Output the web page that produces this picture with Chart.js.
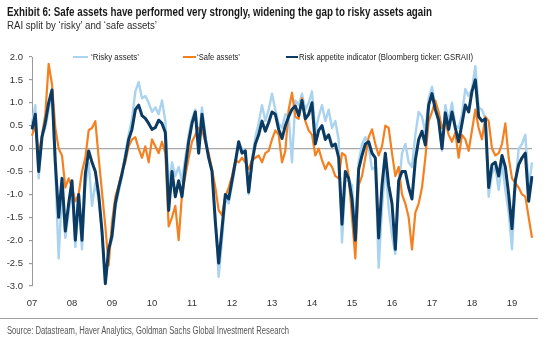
<!DOCTYPE html>
<html>
<head>
<meta charset="utf-8">
<script src="https://cdn.jsdelivr.net/npm/chart.js@4"></script>
<style>
  body { margin: 0; background: #fff; }
  #wrap { position: relative; width: 550px; height: 342px; overflow: hidden; font-family: "Liberation Sans", Arial, sans-serif; }
  #wrap canvas { position: absolute; left: 0; top: 0; }
  .t { position: absolute; white-space: nowrap; line-height: 1; transform-origin: 0 0; }
  .ln { position: absolute; height: 2px; }
</style>
</head>
<body>
<div id="wrap">
  <canvas id="raiChart" width="550" height="342"></canvas>
  <div class="t" data-w="425" style="left:7px;top:6px;font-size:12px;font-weight:bold;color:#1a1a1a">Exhibit 6: Safe assets have performed very strongly, widening the gap to risky assets again</div>
  <div class="t" data-w="150" style="left:7px;top:20px;font-size:11px;color:#2a2a2a">RAI split by ‘risky’ and ‘safe assets’</div>

  <div class="ln" style="left:73px;top:56px;width:15px;background:#a9d3ef"></div>
  <div class="t" data-w="48" style="left:91px;top:53px;font-size:9px;color:#222">‘Risky assets’</div>
  <div class="ln" style="left:183px;top:56px;width:13px;background:#f5801f"></div>
  <div class="t" data-w="43" style="left:197px;top:53px;font-size:9px;color:#222">‘Safe assets’</div>
  <div class="ln" style="left:286px;top:56px;width:12px;background:#0b3a63"></div>
  <div class="t" data-w="174" style="left:299px;top:53px;font-size:9px;color:#222">Risk appetite indicator (Bloomberg ticker: GSRAII)</div>

  <div style="position:absolute;left:0;top:318px;width:538px;height:1px;background:#a0a0a0"></div>
  <div class="t" data-w="282" style="left:7px;top:326px;font-size:10px;color:#555">Source: Datastream, Haver Analytics, Goldman Sachs Global Investment Research</div>
</div>

<script>
// monthly points, Jan 2007 .. Jul 2019
const months = [];
for (let y = 2007; y <= 2019; y++) {
  for (let m = 1; m <= 12; m++) {
    if (y === 2019 && m > 7) break;
    months.push(y + "-" + String(m).padStart(2, "0"));
  }
}

const yTicks = [2.0, 1.5, 1.0, 0.5, 0.0, -0.5, -1.0, -1.5, -2.0, -2.5, -3.0];

// 'Risky assets'
const riskyAssets = [
  0.55, 0.95, -0.65, 0.3, 0.45, 0.85, 1.2, -0.5, -2.4, -0.9,
  -1.95, -1.4, -0.9, -2.15, -1.2, -2.2, -0.8, -0.3, -1.25, -0.75,
  -1.1, -1.85, -2.95, -2.2, -2.0, -1.3, -0.95, -0.6, -0.1, 0.3,
  0.65, 1.25, 1.45, 1.1, 1.15, 1.0, 0.8, 0.9, 0.75, 1.05,
  0.6, -0.85, -0.3, -0.6, -0.4, -0.7, -0.2, 0.3, 0.65, 0.85,
  0.2, 0.9, 0.3, -0.2, -0.45, -1.5, -2.8, -2.0, -1.1, -1.2,
  -0.8, -0.35, 0.1, 0.0, -0.05, -1.0, -0.25, 0.25, 0.55, 0.95,
  0.6, 0.85, 1.2, 0.85, 0.55, 0.45, 0.75, 0.7, -0.3, 1.05,
  0.95, 1.2, 0.85, 1.0, 1.25, 0.35, 0.7, 0.95, 0.6, 0.85,
  0.45, 0.6, 0.2, -2.05, -0.7, -0.7, -0.8, -1.85, -0.3, 0.1,
  0.25, 0.05, -0.45, -0.4, -2.6, -1.3, -0.4, -1.3, -1.9, -2.3,
  -0.9, -0.1, 0.1, -0.3, -0.4, 0.3, 0.8, 0.7, 0.35, 1.1,
  1.35, 0.9, 0.6, -0.05, 0.95, 0.6, 1.0, 0.5, 0.45, 0.75,
  1.3, 1.15, 1.3, 1.8, 0.9, 0.85, 0.65, -1.05, -0.55, -0.4,
  -0.9, -0.3, -0.9, -1.4, -2.2, -0.8, 0.0, 0.1, 0.3, -0.85, -0.3
];

// 'Safe assets'
const safeAssets = [
  0.28, 0.5, -0.15, 0.3, 0.75, 1.85, 1.4, 0.45, 0.0, -0.15,
  -0.85, -0.65, -0.85, -1.15, -1.0, -0.5, -0.2, 0.4, 0.45, 0.6,
  -0.2, -0.95, -1.7, -2.55, -1.6, -1.05, -0.8, -0.5, -0.3, 0.05,
  0.2, 0.25, 0.0, -0.2, 0.05, -0.3, 0.2, 0.05, -0.1, 0.15,
  -0.1, -1.7, -1.5, -1.25, -2.0, -1.0, -0.6, -0.2, 0.15, 0.3,
  0.45, 0.4, 0.15, -0.1, -0.45, -0.85, -1.35, -1.45, -1.05, -0.85,
  -0.6, -0.25, -0.3, -0.2, -0.3, -0.45, -0.25, -0.2, -0.15, -0.3,
  -0.1, -0.05, 0.2, 0.4, 0.3, -0.3, -0.05, 0.85, 1.22, 0.7,
  0.65, 1.1, 0.6, 0.4, 0.3, -0.15, 0.0, -0.25, -0.45, -0.3,
  -0.4, -0.6, -0.65, -0.1, -0.15, -0.6, -1.5, -2.4, -0.8, -0.6,
  -0.2, 0.25, 0.42, 0.1, -0.15, 0.05, 0.5, 0.45, -0.1, -0.6,
  -0.4, -1.0, -1.2, -1.5, -2.2, -1.4, -1.2, -0.85, -0.2, 0.6,
  0.8, 1.05, 0.8, 0.45, 0.6, 0.3, 0.15, 0.35, -0.2, 0.3,
  0.2, -0.05, 0.4, 0.85, 0.45, 0.2, 0.7, 0.6, 0.0, -0.15,
  -0.1, 0.1, 0.55, -0.2, -0.65, -0.75, -0.85, -1.0, -1.05, -1.5, -1.95
];

// Risk appetite indicator (GSRAII)
const raiValues = [
  0.42, 0.75, -0.5, 0.25, 0.57, 1.0, 1.28, -0.3, -1.5, -0.65,
  -1.8, -1.2, -0.7, -2.0, -1.0, -2.0, -0.55, -0.05, -0.3, -0.5,
  -1.0, -1.8, -2.95, -2.2, -1.9, -1.2, -0.85, -0.55, -0.2, 0.2,
  0.42, 0.85, 0.95, 0.72, 0.66, 0.55, 0.42, 0.46, 0.62, 0.55,
  0.35, -1.35, -0.5, -1.05, -0.7, -1.05, -0.4, 0.15, 0.55, 0.8,
  -0.1, 0.75, 0.2, -0.2, -0.5, -1.6, -2.5, -1.75, -1.0, -1.1,
  -0.7, -0.3, 0.15, -0.1, -0.05, -0.95, -0.3, 0.1, 0.3, 0.6,
  0.38, 0.57, 0.8, 0.75, 0.42, 0.22, 0.5, 0.7, 0.86, 0.93,
  0.72, 1.05, 0.65, 0.75, 1.0, 0.1, 0.4, 0.5, 0.2, 0.3,
  0.05, 0.1, -0.2, -1.65, -0.5, -0.65, -1.1, -2.0, -0.45, -0.15,
  0.1, 0.15, -0.1, -0.2, -1.95, -0.8, -0.1, -0.8, -1.2, -2.2,
  -0.7, -0.5, -0.5, -0.85, -1.1, -0.25, 0.2, 0.38, 0.08, 0.95,
  1.2, 0.85, 0.62, 0.0, 0.78, 0.42, 0.8, 0.45, 0.15, 0.55,
  0.95, 0.8, 1.25, 1.5, 0.7, 0.6, 0.65, -0.85, -0.35, -0.3,
  -0.6, -0.15, -0.4, -1.0, -1.75, -0.7, -0.35, -0.2, -0.1, -1.15, -0.6
];

new Chart(document.getElementById("raiChart"), {
  type: "line",
  data: {
    labels: months,
    datasets: [
      { label: "‘Risky assets’", data: riskyAssets, borderColor: "#a9d3ef", borderWidth: 2.4, order: 2 },
      { label: "‘Safe assets’", data: safeAssets, borderColor: "#f5801f", borderWidth: 2.2, order: 1 },
      { label: "Risk appetite indicator (Bloomberg ticker: GSRAII)", data: raiValues, borderColor: "#0b3a63", borderWidth: 3, order: 0 }
    ]
  },
  options: {
    responsive: false,
    animation: false,
    elements: { point: { radius: 0 }, line: { tension: 0, borderJoinStyle: "round" } },
    layout: { padding: { top: 57, right: 18, bottom: 36, left: 0 } },
    plugins: { legend: { display: false }, tooltip: { enabled: false } },
    scales: {
      x: {
        type: "category",
        offset: false,
        grid: { display: false },
        border: { display: false },
        afterFit: s => { s.height = 20; },
        ticks: {
          autoSkip: false,
          maxRotation: 0,
          padding: 4,
          color: "#333",
          font: { family: "Liberation Sans", size: 9.5 },
          callback: function (v) {
            const lab = this.getLabelForValue(v);
            return lab.endsWith("-01") ? lab.slice(2, 4) : null;
          }
        }
      },
      y: {
        min: -3,
        max: 2,
        afterFit: s => { s.width = 32; },
        afterBuildTicks: s => { s.ticks = yTicks.map(v => ({ value: v })); },
        border: { display: true, color: "#9a9a9a" },
        grid: {
          color: c => (c.tick && c.tick.value === 0 ? "#a8a8a8" : "rgba(0,0,0,0)"),
          lineWidth: 1.2,
          tickColor: "#9a9a9a",
          tickLength: 3
        },
        ticks: {
          padding: 6,
          color: "#333",
          font: { family: "Liberation Sans", size: 9.5 },
          callback: v => v.toFixed(1)
        }
      }
    }
  }
});

// squeeze the html texts to the widths they have in the picture
document.querySelectorAll(".t").forEach(el => {
  const w = el.getBoundingClientRect().width;
  const target = +el.dataset.w;
  if (w > 0 && target) el.style.transform = "scaleX(" + (target / w) + ")";
});
</script>
</body>
</html>
